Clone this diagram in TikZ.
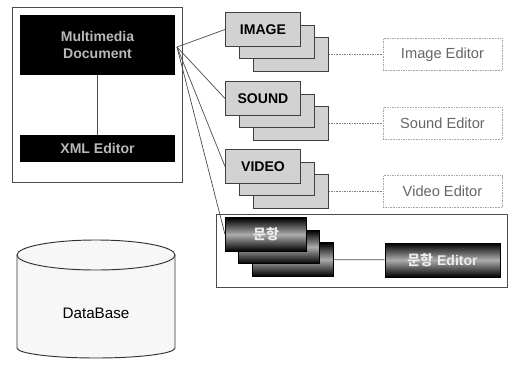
\documentclass[tikz,border=0pt]{standalone}
\usepackage{fontspec}
\setmainfont{Liberation Sans}
\newfontfamily\krfont{Noto Sans CJK KR}
\usetikzlibrary{arrows,shapes,positioning}

\tikzset{
  mcard/.style={draw=black!75,fill=gray!35,line width=0.8pt,minimum width=2.25cm,minimum height=1cm,inner sep=0pt,font=\bfseries\fontsize{12}{14}\selectfont},
  dcard/.style={draw=black,top color=black,bottom color=black,middle color=gray!65,line width=0.8pt,minimum width=2.43cm,minimum height=1cm,inner sep=0pt,text=white!85!gray,font=\bfseries\fontsize{12}{14}\selectfont},
  editbox/.style={draw=gray!70,densely dotted,fill=white,minimum width=3.57cm,minimum height=0.96cm,inner sep=0pt,text=black!60,font=\fontsize{12.5}{14}\selectfont},
  blackbox/.style={fill=black,minimum width=4.65cm,inner sep=0pt,align=center,text=gray!55,font=\bfseries\fontsize{12}{14}\selectfont},
  link/.style={black!70,line width=0.6pt}
}

\begin{document}
\begin{tikzpicture}[x=0.03cm,y=-0.03cm]
    \useasboundingbox (0,0) rectangle (510,366);
    % left frame
    \draw[black!70,thick,fill=white] (12,7) rectangle (182,182);
    \node[blackbox,minimum height=1.8cm] (doc) at (97.5,45) {Multimedia\\Document};
    \node[blackbox,minimum height=0.81cm] (xmled) at (97.5,148.5) {XML Editor};
    \draw[link] (doc) -- (xmled);
    \coordinate (fan) at (177,47);

    % media stacks
    \foreach \nm/\lbl/\ed/\ty in {image/IMAGE/Image Editor/13,sound/SOUND/Sound Editor/82,video/VIDEO/Video Editor/150}{
      \node[mcard] (\nm3) at (291,\ty+41.5) {};
      \node[mcard] (\nm2) at (277,\ty+29) {};
      \node[mcard] (\nm1) at (263,\ty+16.5) {\lbl};
      \node[editbox] (ed\nm) at (442.5,\ty+41.5) {\ed};
      \draw[gray,densely dotted] (\nm3) -- (ed\nm);
      \draw[link] (fan) -- (\nm1.west);
    }

    % question items
    \draw[black!70,thick,fill=white] (216,214) rectangle (507,287);
    \node[dcard] (item3) at (293,259.5) {};
    \node[dcard] (item2) at (279,247) {};
    \node[dcard] (item1) at (266,234.5) {\krfont 문항};
    \node[dcard,minimum width=3.45cm,minimum height=1.02cm] (editem) at (442.5,260) {{\krfont 문항} Editor};
    \draw[link] (item3) -- (editem);
    \draw[link] (fan) -- (item1.west);

    % database
    \draw[black!80,thick,fill=gray!6] (17,255) -- (17,348) arc[start angle=180,end angle=360,x radius=2.37cm,y radius=0.3cm] -- (175,255);
    \draw[black!80,thick,fill=gray!6] (96,255) ellipse [x radius=2.37cm,y radius=0.45cm];
    \node[font=\fontsize{13}{15}\selectfont] (db) at (96,313) {DataBase};
\end{tikzpicture}
\end{document}
